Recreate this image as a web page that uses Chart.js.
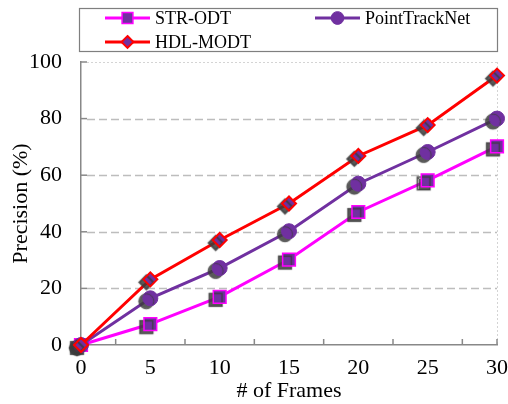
<!DOCTYPE html>
<html>
<head>
<meta charset="utf-8">
<script src="https://cdn.jsdelivr.net/npm/chart.js@4/dist/chart.umd.min.js"></script>
<style>
html,body{margin:0;padding:0;background:#fff;}
#wrap{width:508px;height:404px;position:relative;}
</style>
</head>
<body>
<div id="wrap"><canvas id="c" width="508" height="404"></canvas></div>
<script>
const frames = [0, 5, 10, 15, 20, 25, 30];
const strOdt = [0, 7.4, 17, 30.2, 47, 58.2, 70.2];
const pointTrackNet = [0, 16.5, 27.2, 40.2, 57, 68.2, 80];
const hdlModt = [0, 23.2, 37.1, 50, 66.8, 77.7, 95.2];
const seriesNames = ['STR-ODT', 'PointTrackNet', 'HDL-MODT'];
const xMinorTicks = [2.5, 7.5, 12.5, 17.5, 22.5, 27.5, 30];
const yTicks = [0, 20, 40, 60, 80, 100];

const FONT = '"Liberation Serif", "Times New Roman", serif';
const PURPLE = '#7030A0';

function pts(vals){ return frames.map((f,i)=>({x:f, y:vals[i]})); }

// marker shadows
const origPointDraw = Chart.PointElement.prototype.draw;
Chart.PointElement.prototype.draw = function(ctx, area){
  ctx.save();
  ctx.shadowColor = 'rgba(60,60,60,0.85)';
  ctx.shadowOffsetX = -4;
  ctx.shadowOffsetY = 3;
  ctx.shadowBlur = 1;
  origPointDraw.call(this, ctx, area);
  ctx.restore();
};

function drawMarker(ctx, style, r, x, y, fill, stroke, bw){
  ctx.save();
  ctx.fillStyle = fill; ctx.strokeStyle = stroke; ctx.lineWidth = bw;
  ctx.beginPath();
  if (style === 'rect') {
    const s = Math.SQRT1_2 * r;
    ctx.rect(x - s, y - s, 2*s, 2*s);
  } else if (style === 'rectRot') {
    ctx.moveTo(x, y - r); ctx.lineTo(x + r, y); ctx.lineTo(x, y + r); ctx.lineTo(x - r, y); ctx.closePath();
  } else {
    ctx.arc(x, y, r, 0, Math.PI*2);
  }
  ctx.fill(); if (bw) ctx.stroke();
  ctx.restore();
}

const gridPlugin = {
  id: 'gridPlugin',
  beforeDatasetsDraw(chart){
    const {ctx, chartArea:a, scales:{x, y}} = chart;
    ctx.save();
    ctx.strokeStyle = '#BDBDBD'; ctx.lineWidth = 1.5; ctx.setLineDash([8,4]);
    yTicks.forEach(v=>{
      if (v === 0 || v === 100) return;
      const py = Math.round(y.getPixelForValue(v)) + 0.5;
      ctx.beginPath(); ctx.moveTo(a.left + 6, py); ctx.lineTo(a.right, py); ctx.stroke();
    });
    ctx.strokeStyle = '#D4D4D4'; ctx.lineWidth = 1; ctx.setLineDash([2,2]);
    const pTop = Math.round(y.getPixelForValue(100)) + 0.5;
    ctx.beginPath(); ctx.moveTo(a.left + 6, pTop); ctx.lineTo(a.right, pTop); ctx.stroke();
    const pr = Math.round(x.getPixelForValue(30)) + 0.5;
    ctx.beginPath(); ctx.moveTo(pr, a.top); ctx.lineTo(pr, a.bottom); ctx.stroke();
    ctx.setLineDash([]);
    ctx.strokeStyle = '#888'; ctx.lineWidth = 1.5;
    yTicks.forEach(v=>{
      const py = y.getPixelForValue(v);
      ctx.beginPath(); ctx.moveTo(a.left, py); ctx.lineTo(a.left + 6, py); ctx.stroke();
    });
    xMinorTicks.forEach(v=>{
      const px = x.getPixelForValue(v);
      ctx.beginPath(); ctx.moveTo(px, a.bottom); ctx.lineTo(px, a.bottom - 6); ctx.stroke();
    });
    ctx.restore();
  }
};

const legendPlugin = {
  id: 'boxLegend',
  afterDraw(chart){
    const ctx = chart.ctx;
    ctx.save();
    ctx.strokeStyle = '#7F7F7F'; ctx.lineWidth = 1.2;
    ctx.strokeRect(79.5, 8.5, 418, 43);
    const slots = [[105, 18], [315, 18], [105, 42]];
    chart.data.datasets.forEach((ds, i)=>{
      const [lx, ly] = slots[i];
      ctx.strokeStyle = ds.borderColor; ctx.lineWidth = ds.borderWidth;
      ctx.beginPath(); ctx.moveTo(lx, ly); ctx.lineTo(lx + 45, ly); ctx.stroke();
      drawMarker(ctx, ds.pointStyle, ds.pointRadius * 0.85, lx + 22.5, ly, ds.pointBackgroundColor, ds.pointBorderColor, ds.pointBorderWidth);
      ctx.fillStyle = '#000'; ctx.font = '18px ' + FONT;
      ctx.textBaseline = 'middle'; ctx.textAlign = 'left';
      ctx.fillText(ds.label, lx + 50, ly + 1);
    });
    ctx.restore();
  }
};

new Chart(document.getElementById('c'), {
  type: 'line',
  data: {
    datasets: [
      { label: seriesNames[0], data: pts(strOdt), borderColor: '#FF00FF', borderWidth: 3, clip: false,
        pointStyle: 'rect', pointRadius: 9, pointBackgroundColor: PURPLE, pointBorderColor: '#FF00FF', pointBorderWidth: 1.5, order: 2 },
      { label: seriesNames[1], data: pts(pointTrackNet), borderColor: PURPLE, borderWidth: 3, clip: false,
        pointStyle: 'circle', pointRadius: 7.5, pointBackgroundColor: PURPLE, pointBorderColor: PURPLE, pointBorderWidth: 1, order: 1 },
      { label: seriesNames[2], data: pts(hdlModt), borderColor: '#FF0000', borderWidth: 3, clip: false,
        pointStyle: 'rectRot', pointRadius: 7, pointBackgroundColor: PURPLE, pointBorderColor: '#FF0000', pointBorderWidth: 2, order: 0 }
    ]
  },
  options: {
    responsive: false,
    animation: false,
    layout: { padding: { top: 62, right: 0, left: 0, bottom: 0 } },
    plugins: { legend: { display: false }, tooltip: { enabled: false } },
    scales: {
      x: {
        type: 'linear', min: 0, max: 30,
        ticks: { stepSize: 5, color: '#000', font: { family: FONT, size: 22 }, padding: 10, maxRotation: 0 },
        grid: { display: false, drawTicks: false },
        border: { display: true, color: '#888', width: 1.5 },
        title: { display: true, text: '# of Frames', color: '#000', font: { family: FONT, size: 22 }, padding: 0 },
        afterFit(s){ s.height = 59; s.paddingRight = 11; s.paddingLeft = 0; }
      },
      y: {
        min: 0, max: 100,
        ticks: { stepSize: 20, color: '#000', font: { family: FONT, size: 22 }, padding: 19 },
        grid: { display: false, drawTicks: false },
        border: { display: true, color: '#888', width: 1.5 },
        title: { display: true, text: 'Precision (%)', color: '#000', font: { family: FONT, size: 22 }, padding: { top: 8, bottom: 0 } },
        afterFit(s){ s.width = 81; s.paddingTop = 0; s.paddingBottom = 0; }
      }
    }
  },
  plugins: [gridPlugin, legendPlugin]
});
</script>
</body>
</html>
